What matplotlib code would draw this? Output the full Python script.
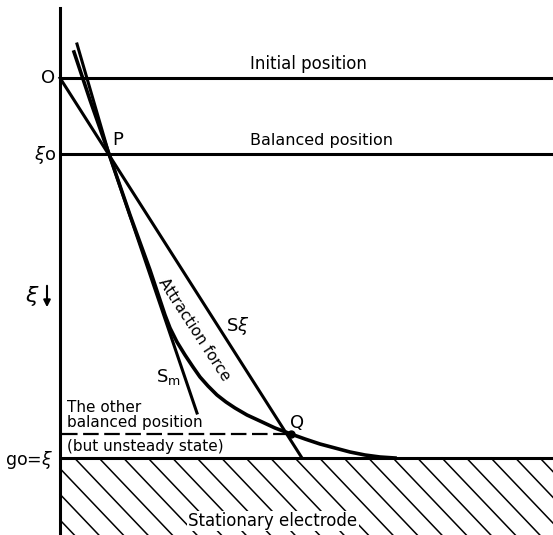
import numpy as np
import matplotlib
matplotlib.use("Agg")
import matplotlib.pyplot as plt

plt.rcParams['font.family'] = ['DejaVu Sans']

# vertical coordinate xi measured downward from the initial position O
xi_O = 0
xi_0 = 76          # balanced position P
xi_Q = 356         # other balanced position Q
g0 = 380           # stationary electrode

# S*xi straight line (spring force)
sxi_xi = [0, 380]
sxi_f = [0, 242]

# tangent S_m
sm_xi = [-34, 76, 335]
sm_f = [17, 49, 137]

# attraction force curve
att_xi = [-26, 22, 76, 137, 192, 222, 237, 250, 264, 277, 289, 299, 308, 317,
          324, 330, 337, 343, 350, 356, 361, 366, 370, 374, 377, 379, 380]
att_f = [14, 30, 49, 70, 90, 100, 105, 110, 117, 125, 133, 140, 148, 157,
         166, 175, 187, 200, 215, 231, 245, 260, 275, 290, 305, 320, 335]
q_f = 231

fig = plt.figure(figsize=(5.53, 5.35), dpi=100)
ax = fig.add_axes([0, 0, 1, 1])
ax.set_xlim(-60, 493)
ax.set_ylim(457, -78)
ax.axis('off')

lw = 2.2
# axis
ax.plot([0, 0], [-70, 457], color='black', lw=lw)
# horizontal positions
for y in [xi_O, xi_0, g0]:
    ax.plot([0, 493], [y, y], color='black', lw=lw, solid_capstyle='butt')

# hatching under the electrode
for x0 in np.arange(-500, 493, 24.5):
    xs = np.array([x0, x0 + 120])
    ys = g0 + (xs - x0) * 1.05
    if xs[1] <= 0:
        continue
    if xs[0] < 0:
        ys[0] = g0 + (0 - x0) * 1.05
        xs[0] = 0
    if ys[0] > 457:
        continue
    ax.plot(xs, ys, color='black', lw=1.1)

ax.plot(sxi_f, sxi_xi, color='black', lw=lw)
ax.plot(sm_f, sm_xi, color='black', lw=lw)
ax.plot(att_f, att_xi, color='black', lw=2.6, solid_joinstyle='round')
ax.plot([2, q_f], [xi_Q, xi_Q], color='black', lw=1.6, dashes=(7, 2.5))
ax.plot([q_f], [xi_Q], 'o', color='black', ms=5)

fs = 12
ax.text(-12, xi_O, 'O', fontsize=fs + 1, ha='center', va='center')
ax.text(-15, xi_0 + 1, r'$\xi$' + 'o', fontsize=fs + 1, ha='center', va='center')
ax.text(-28, 218, r'$\xi$', fontsize=fs + 4, ha='center', va='center')
ax.annotate('', xy=(-13, 232), xytext=(-13, 205),
            arrowprops=dict(arrowstyle='-|>', color='black', lw=1.5, mutation_scale=10))
ax.text(-31, g0 + 2, 'go=' + r'$\xi$', fontsize=fs + 0.5, ha='center', va='center')
ax.text(58, xi_0 - 14, 'P', fontsize=fs + 1, ha='center', va='center')
ax.text(237, xi_Q - 11, 'Q', fontsize=fs + 1, ha='center', va='center')
ax.text(248, xi_O - 14, 'Initial position', fontsize=fs, ha='center', va='center')
ax.text(261, xi_0 - 14, 'Balanced position', fontsize=fs - 0.5, ha='center', va='center')
ax.text(178, 248, 'S' + r'$\xi$', fontsize=fs + 1, ha='center', va='center')
ax.text(108, 299, 'S' + r'$_\mathrm{m}$', fontsize=fs + 1, ha='center', va='center')
ax.text(134, 252, 'Attraction force', fontsize=fs - 1, ha='center', va='center',
        rotation=-57, rotation_mode='anchor')
ax.text(7, 330, 'The other', fontsize=fs - 1, ha='left', va='center')
ax.text(7, 344, 'balanced position', fontsize=fs - 1, ha='left', va='center')
ax.text(7, 369, '(but unsteady state)', fontsize=fs - 1, ha='left', va='center')
ax.text(213, 443, 'Stationary electrode', fontsize=fs, ha='center', va='center',
        bbox=dict(facecolor='white', edgecolor='none', pad=1))

fig.savefig('out.png', dpi=100)
